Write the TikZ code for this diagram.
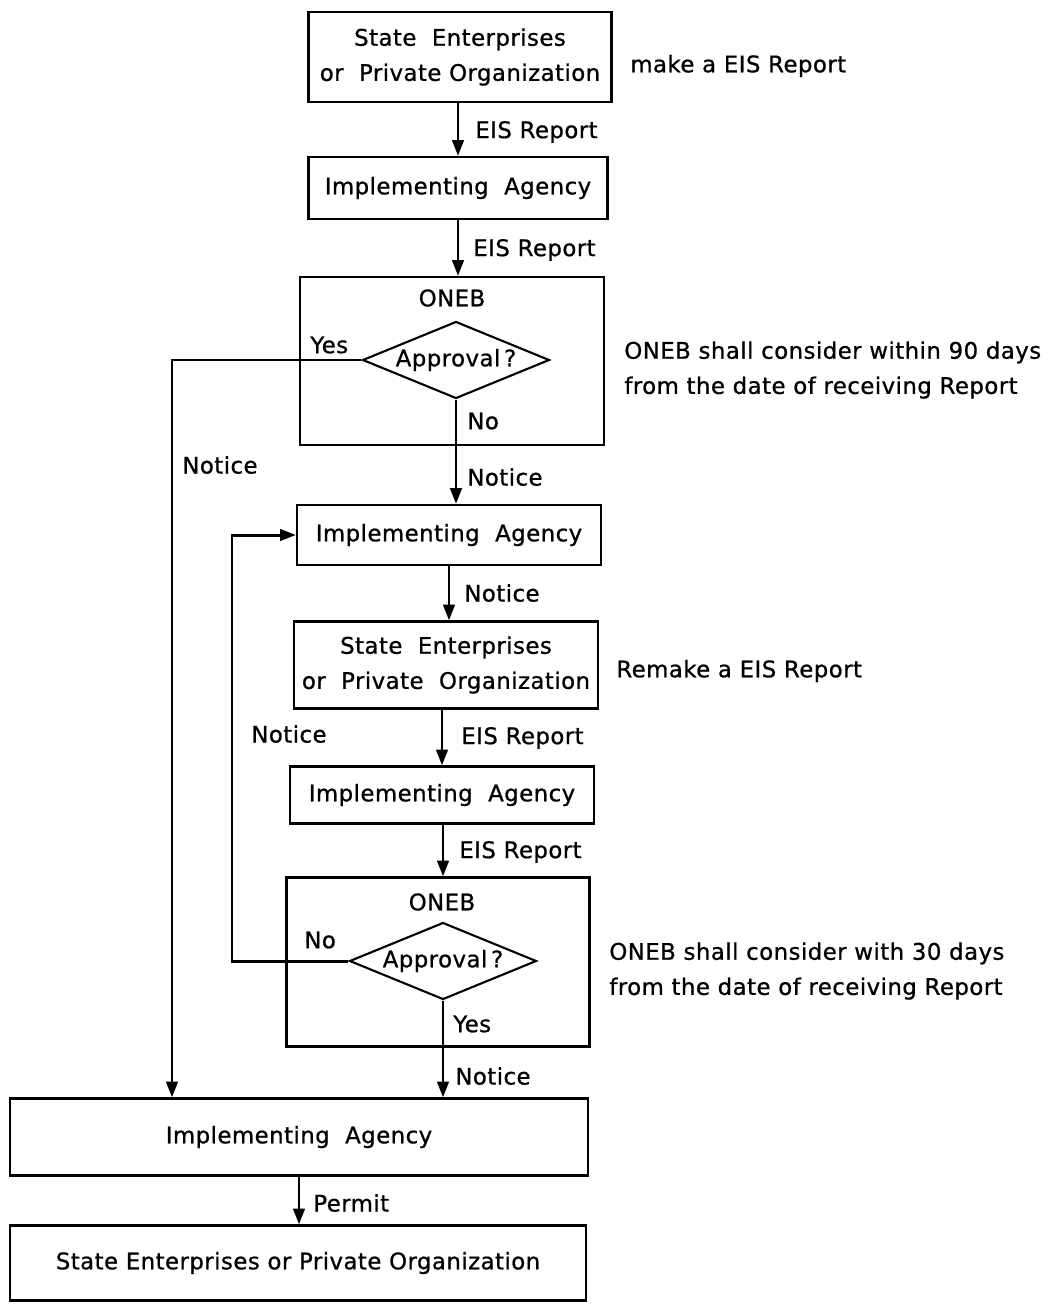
\documentclass[tikz,border=0pt]{standalone}
\usepackage{fontspec}
\setmainfont{DejaVu Sans}[LetterSpace=2, FakeBold=0.8]
\usetikzlibrary{shapes.geometric,arrows.meta}

\tikzset{
  box/.style={draw, line width=1.2pt, align=center, inner sep=0pt},
  decision/.style={draw, diamond, aspect=2.43, line width=1.2pt, inner sep=0pt,
    minimum width=3.74cm, minimum height=1.54cm},
  flow/.style={line width=1.7pt, -{Triangle[length=9pt,width=6.5pt]}},
  lbl/.style={anchor=west, inner sep=0pt},
  side/.style={anchor=west, align=left, inner sep=0pt}
}

\begin{document}
\begin{tikzpicture}[x=0.02cm, y=-0.02cm, font=\fontsize{13}{20}\selectfont]
\useasboundingbox (0,0) rectangle (1049,1305);

% first round
\node[box, minimum width=6.06cm, minimum height=1.8cm] (sep1) at (460,57) {State\ \ Enterprises\\or\ \ Private\ Organization};
\node[side] (make) at (630,66) {make\ a\ EIS\ Report};
\node[box, minimum width=5.98cm, minimum height=1.24cm] (ia1) at (458,188) {Implementing\ \ Agency};
\node[box, minimum width=6.08cm, minimum height=3.36cm] (oneb1) at (452,361) {};
\node (t1) at (452,298) {ONEB};
\node[decision] (dq1) at (456,360) {Approval\,?};
\node[side] (rule1) at (624,370) {ONEB\ shall\ consider\ within\ 90\ days\\from\ the\ date\ of\ receiving\ Report};

% second round
\node[box, minimum width=6.08cm, minimum height=1.2cm] (ia2) at (449,535) {Implementing\ \ Agency};
\node[box, minimum width=6.08cm, minimum height=1.74cm] (sep2) at (446,665) {State\ \ Enterprises\\or\ \ Private\ \ Organization};
\node[side] (remake) at (616,671) {Remake\ a\ EIS\ Report};
\node[box, minimum width=6.08cm, minimum height=1.14cm] (ia3) at (442,795) {Implementing\ \ Agency};
\node[box, minimum width=6.06cm, minimum height=3.38cm] (oneb2) at (438,962) {};
\node (t2) at (442,902) {ONEB};
\node[decision] (dq2) at (443,961) {Approval\,?};
\node[side] (rule2) at (609,971) {ONEB\ shall\ consider\ with\ 30\ days\\from\ the\ date\ of\ receiving\ Report};

% result
\node[box, minimum width=11.56cm, minimum height=1.54cm] (ia4) at (299,1137) {Implementing\ \ Agency};
\node[box, minimum width=11.52cm, minimum height=1.5cm] (sep3) at (298,1263) {State\ Enterprises\ or\ Private\ Organization};

% connectors
\draw[flow] (sep1.south -| ia1.north) -- (ia1.north);
\draw[flow] (ia1.south) -- (ia1.south |- oneb1.north);
\draw[flow] (dq1.south) -- (dq1.south |- ia2.north);
\coordinate (yesbend) at (172,360);
\draw[flow] (dq1.west) -- (yesbend) -- (yesbend |- ia4.north);
\draw[flow] (ia2.south) -- (ia2.south |- sep2.north);
\draw[flow] (sep2.south -| ia3.north) -- (ia3.north);
\draw[flow] (ia3.south -| dq2.south) -- (dq2.south |- oneb2.north);
\coordinate (nobend) at (232,961);
\draw[flow] (dq2.west) -- (nobend) -- (nobend |- ia2.west) -- (ia2.west);
\draw[flow] (dq2.south) -- (dq2.south |- ia4.north);
\draw[flow] (ia4.south) -- (ia4.south |- sep3.north);

% connector labels
\node[lbl] (l1) at (475,132) {EIS\ Report};
\node[lbl] (l2) at (473,250) {EIS\ Report};
\node[lbl] (yes1) at (310,345) {Yes};
\node[lbl] (no1) at (467,421) {No};
\node[lbl] (n1) at (182,465) {Notice};
\node[lbl] (l3) at (467,477) {Notice};
\node[lbl] (l4) at (464,593) {Notice};
\node[lbl] (n2) at (251,734) {Notice};
\node[lbl] (l5) at (461,738) {EIS\ Report};
\node[lbl] (l6) at (459,852) {EIS\ Report};
\node[lbl] (no2) at (304,940) {No};
\node[lbl] (yes2) at (453,1024) {Yes};
\node[lbl] (l7) at (455,1076) {Notice};
\node[lbl] (l8) at (313,1203) {Permit};
\end{tikzpicture}
\end{document}
